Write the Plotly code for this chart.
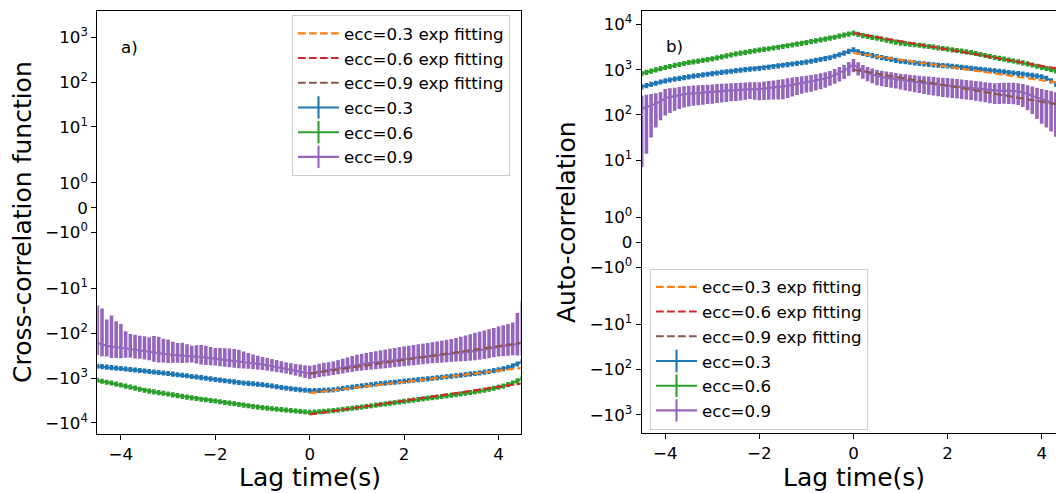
import numpy as np
import plotly.graph_objects as go

W, H = 1056, 493

# ---------------- data ----------------
LAG = np.round(np.arange(-45, 46) * 0.1, 1)          # lag time grid (s)
FIT_LAG = [0.0, 0.5, 1.0, 1.5, 2.0, 2.5, 3.0, 3.5, 4.0, 4.5]

# panel a) cross-correlation
CROSS_03 = [-550,-560,-575,-590,-605,-620,-635,-650,-665,-685,
            -700,-720,-740,-760,-780,-800,-825,-850,-875,-900,
            -930,-960,-990,-1020,-1055,-1090,-1125,-1160,-1195,-1230,
            -1270,-1300,-1330,-1360,-1390,-1420,-1470,-1520,-1580,-1640,
            -1700,-1750,-1800,-1850,-1890,-1920,-1930,-1920,-1900,-1880,
            -1850,-1790,-1730,-1670,-1610,-1560,-1510,-1470,-1420,-1380,
            -1340,-1310,-1280,-1250,-1220,-1190,-1160,-1130,-1100,-1075,
            -1050,-1025,-995,-970,-945,-920,-895,-870,-845,-820,
            -800,-775,-745,-720,-690,-660,-625,-585,-540,-490,
            -430]
CROSS_03_ERR = [72,73,75,77,79,81,83,85,86,89,
                91,94,96,99,101,104,107,111,114,117,
                121,125,129,133,137,142,146,151,155,160,
                165,169,173,177,181,185,191,198,205,213,
                221,228,234,241,246,250,251,250,247,244,
                241,233,225,217,209,203,196,191,185,179,
                174,170,166,163,159,155,151,147,143,140,
                137,133,129,126,123,120,116,113,110,107,
                104,101,97,94,90,86,81,76,70,64,
                56]
CROSS_06 = [-1130,-1190,-1250,-1310,-1380,-1450,-1530,-1610,-1700,-1800,
            -1900,-1980,-2060,-2140,-2220,-2300,-2400,-2500,-2600,-2700,
            -2800,-2900,-3000,-3100,-3200,-3300,-3420,-3550,-3680,-3810,
            -3950,-4080,-4220,-4360,-4500,-4650,-4770,-4890,-5010,-5130,
            -5250,-5380,-5510,-5640,-5770,-5900,-5820,-5720,-5620,-5510,
            -5400,-5240,-5080,-4930,-4790,-4650,-4500,-4360,-4220,-4080,
            -3950,-3830,-3710,-3590,-3470,-3350,-3250,-3150,-3050,-2950,
            -2850,-2770,-2690,-2610,-2530,-2450,-2370,-2290,-2210,-2130,
            -2050,-1970,-1890,-1800,-1710,-1620,-1530,-1420,-1300,-1170,
            -1020]
CROSS_06_ERR = [147,155,163,170,179,189,199,209,221,234,
                247,257,268,278,289,299,312,325,338,351,
                364,377,390,403,416,429,445,462,478,495,
                514,530,549,567,585,605,620,636,651,667,
                683,699,716,733,750,767,757,744,731,716,
                702,681,660,641,623,605,585,567,549,530,
                514,498,482,467,451,436,423,410,397,384,
                371,360,350,339,329,319,308,298,287,277,
                267,256,246,234,222,211,199,185,169,152,
                133]
CROSS_09 = [-164,-178,-190,-198,-205,-212,-220,-228,-236,-243,
            -250,-262,-275,-284,-292,-300,-305,-309,-313,-316,
            -320,-330,-340,-350,-360,-369,-378,-388,-398,-409,
            -420,-434,-449,-465,-482,-500,-520,-543,-567,-593,
            -620,-650,-685,-720,-758,-790,-760,-720,-690,-665,
            -640,-610,-580,-552,-525,-500,-485,-470,-456,-443,
            -430,-418,-405,-393,-381,-370,-360,-350,-340,-330,
            -320,-313,-306,-299,-292,-285,-278,-271,-264,-257,
            -250,-240,-230,-220,-210,-200,-195,-190,-183,-175,
            -164]
CROSS_09_ERR = [140,150,141,158,151,150,130,125,128,130,
                133,140,160,165,160,162,150,145,150,140,
                131,145,158,160,158,157,165,172,178,184,
                188,180,172,168,165,162,165,168,170,172,
                173,185,200,220,240,260,250,240,232,224,
                216,213,210,206,203,200,198,196,194,192,
                190,187,184,180,177,174,171,168,164,160,
                156,155,154,153,152,151,151,152,152,152,
                152,148,144,139,134,130,129,128,126,140,
                145]
CROSS_FIT_03 = [-2170,-1880,-1625,-1405,-1215,-1055,-912,-789,-682,-592]
CROSS_FIT_06 = [-6550,-5480,-4590,-3850,-3220,-2700,-2260,-1890,-1580,-1320]
CROSS_FIT_09 = [-800,-670,-561,-470,-394,-330,-276,-231,-194,-162]

# panel b) auto-correlation
AUTO_03 = [422,450,478,505,540,572,598,622,648,674,
           700,725,750,775,800,828,852,878,905,932,
           960,985,1010,1035,1058,1080,1115,1150,1185,1222,
           1260,1300,1345,1390,1435,1480,1550,1620,1690,1770,
           1850,2000,2150,2330,2550,2760,2500,2300,2180,2060,
           1950,1860,1780,1700,1620,1550,1510,1470,1430,1390,
           1350,1320,1290,1260,1240,1220,1190,1160,1130,1105,
           1080,1055,1030,1000,975,950,925,900,875,852,
           830,805,780,755,728,700,650,570,483,440,
           400]
AUTO_03_ERR = [55,59,62,66,70,74,78,81,84,88,
               91,94,98,101,104,108,111,114,118,121,
               125,128,131,135,138,140,145,150,154,159,
               164,169,175,181,187,192,202,211,220,230,
               241,260,280,303,332,359,325,299,283,268,
               254,242,231,221,211,202,196,191,186,181,
               176,172,168,164,161,159,155,151,147,144,
               140,137,134,130,127,124,120,117,114,111,
               108,105,101,98,95,91,85,74,63,57,
               52]
AUTO_06 = [828,880,935,995,1060,1125,1185,1250,1315,1380,
           1450,1505,1560,1620,1685,1750,1840,1930,2030,2140,
           2250,2340,2430,2520,2620,2720,2820,2920,3030,3150,
           3270,3400,3540,3690,3840,4000,4180,4370,4570,4780,
           5000,5250,5550,5850,6150,6450,6050,5700,5450,5220,
           5000,4760,4530,4310,4100,3900,3790,3680,3580,3480,
           3390,3280,3170,3060,2960,2860,2760,2670,2580,2490,
           2410,2290,2180,2070,1970,1870,1790,1720,1640,1570,
           1500,1420,1350,1280,1200,1125,1070,1010,950,890,
           820]
AUTO_06_ERR = [108,114,122,129,138,146,154,163,171,179,
               189,196,203,211,219,228,239,251,264,278,
               293,304,316,328,341,354,367,380,394,410,
               425,442,460,480,499,520,543,568,594,621,
               650,683,722,761,800,839,787,741,709,679,
               650,619,589,560,533,507,493,478,465,452,
               441,426,412,398,385,372,359,347,335,324,
               313,298,283,269,256,243,233,224,213,204,
               195,185,176,166,156,146,139,131,124,116,
               107]
AUTO_09 = [137,147,161,178,200,236,250,262,275,288,
           295,302,308,314,320,325,332,338,344,350,
           355,362,370,378,372,370,380,390,400,410,
           420,440,462,485,505,525,545,570,600,640,
           690,760,850,950,1100,1300,1100,950,850,780,
           720,690,660,635,612,590,570,552,535,520,
           505,492,480,468,457,447,436,426,416,405,
           395,384,372,360,348,337,340,345,345,342,
           335,315,290,265,240,220,205,190,175,162,
           150]
AUTO_09_ERR = [130,133,129,125,123,139,139,138,140,141,
               142,143,144,145,146,147,148,149,150,150,
               151,152,152,153,155,159,165,172,180,190,
               198,203,206,208,210,211,218,225,232,240,
               248,270,300,330,370,420,360,320,295,280,
               268,258,248,238,230,224,222,220,218,216,
               214,212,210,208,206,205,200,195,190,185,
               180,177,173,170,166,163,165,168,170,170,
               168,165,162,160,158,156,152,147,142,140,
               138]
AUTO_FIT_03 = [2340,1966,1652,1389,1167,981,824,693,582,490]
AUTO_FIT_06 = [6450,5240,4250,3450,2800,2270,1840,1495,1213,985]
AUTO_FIT_09 = [1000,816,666,543,443,362,295,241,197,160]

SERIES_NAMES = ["ecc=0.3", "ecc=0.6", "ecc=0.9"]
FIT_NAMES = ["ecc=0.3 exp fitting", "ecc=0.6 exp fitting", "ecc=0.9 exp fitting"]
X_TICKS = [-4, -2, 0, 2, 4]
X_TICKTEXT = ["\u22124", "\u22122", "0", "2", "4"]
Y_TICKS_A = [1000, 100, 10, 1, 0, -1, -10, -100, -1000, -10000]
Y_TICKS_B = [10000, 1000, 100, 10, 1, 0, -1, -10, -100, -1000]

DATA_COLORS = ["#1f77b4", "#2ca02c", "#9467bd"]
FIT_COLORS = ["#ff7f0e", "#d62728", "#8c564b"]


# ---------------- symlog scale (matplotlib default: linthresh=2, linscale=1) ----------------
LINTHRESH = 2.0
ADJ = 1.0 / (1.0 - 0.1)


def symlog(v):
    v = np.asarray(v, dtype=float)
    a = np.abs(v)
    out = np.sign(v) * LINTHRESH * (ADJ + np.log10(np.maximum(a, 1e-12) / LINTHRESH))
    return np.where(a <= LINTHRESH, v * ADJ, out)


def tick_label(v):
    if v == 0:
        return "0"
    e = int(round(np.log10(abs(v))))
    s = "\u2212" if v < 0 else ""
    return f"{s}10<sup>{e}</sup>"


def px_x(p):
    return p / W


def px_y(p):
    return 1 - p / H


fig = go.Figure()

FONT = "DejaVu Sans"
FS = 16.7
LW = 2.1
DASH = "7.7px,3.3px"

panels = [
    dict(xa="x", ya="y", leg="legend",
         data=[CROSS_03, CROSS_06, CROSS_09],
         err=[CROSS_03_ERR, CROSS_06_ERR, CROSS_09_ERR],
         fits=[CROSS_FIT_03, CROSS_FIT_06, CROSS_FIT_09]),
    dict(xa="x2", ya="y2", leg="legend2",
         data=[AUTO_03, AUTO_06, AUTO_09],
         err=[AUTO_03_ERR, AUTO_06_ERR, AUTO_09_ERR],
         fits=[AUTO_FIT_03, AUTO_FIT_06, AUTO_FIT_09]),
]

for p in panels:
    # data with error bars
    for vals, errs, col in zip(p["data"], p["err"], DATA_COLORS):
        v = np.array(vals, dtype=float)
        e = np.array(errs, dtype=float)
        y = symlog(v)
        up = symlog(v + e) - y
        dn = y - symlog(v - e)
        fig.add_trace(go.Scatter(
            x=LAG, y=y, mode="lines", line=dict(color=col, width=LW),
            error_y=dict(type="data", symmetric=False, array=up, arrayminus=dn,
                         color=col, thickness=3.6, width=0),
            showlegend=False, xaxis=p["xa"], yaxis=p["ya"], hoverinfo="skip"))
    # exponential fits (dashed)
    for k, (vals, col, name) in enumerate(zip(p["fits"], FIT_COLORS, FIT_NAMES)):
        fig.add_trace(go.Scatter(
            x=FIT_LAG, y=symlog(vals), mode="lines",
            line=dict(color=col, width=LW, dash=DASH),
            name=name, legend=p["leg"], legendrank=k + 1,
            xaxis=p["xa"], yaxis=p["ya"]))
    # legend entries for data (errorbar style)
    for k, (col, name) in enumerate(zip(DATA_COLORS, SERIES_NAMES)):
        fig.add_trace(go.Scatter(
            x=[None], y=[None], mode="lines+markers",
            line=dict(color=col, width=LW),
            marker=dict(symbol="line-ns", size=19, color=col, line=dict(color=col, width=LW)),
            name=name, legend=p["leg"], legendrank=k + 4,
            xaxis=p["xa"], yaxis=p["ya"]))

axis_common = dict(showgrid=False, zeroline=False, showline=True, linecolor="black",
                   linewidth=1.1, ticks="outside", ticklen=5, tickwidth=1.1,
                   tickcolor="black", tickfont=dict(family=FONT, size=FS, color="black"))

legend_common = dict(xanchor="left", yanchor="top", bgcolor="white",
                     bordercolor="#cccccc", borderwidth=1,
                     font=dict(family=FONT, size=FS, color="black"),
                     traceorder="normal", itemwidth=41)

fig.update_layout(
    width=W, height=H,
    margin=dict(l=0, r=0, t=0, b=0),
    paper_bgcolor="white", plot_bgcolor="white",
    font=dict(family=FONT, color="black"),
    xaxis=dict(domain=[px_x(97.3), px_x(520.7)], range=[-4.5, 4.47], anchor="y",
               tickvals=X_TICKS, ticktext=X_TICKTEXT, mirror=True, **axis_common),
    yaxis=dict(domain=[px_y(434), px_y(11)], range=[-10.125, 8.80], anchor="x",
               tickvals=list(symlog(Y_TICKS_A)), ticktext=[tick_label(v) for v in Y_TICKS_A],
               mirror=True, **axis_common),
    xaxis2=dict(domain=[px_x(641.7), 1.0], range=[-4.5, 4.304], anchor="y2",
                tickvals=X_TICKS, ticktext=X_TICKTEXT, mirror=True, **axis_common),
    yaxis2=dict(domain=[px_y(433.3), px_y(11)], range=[-8.43, 10.21], anchor="x2",
                tickvals=list(symlog(Y_TICKS_B)), ticktext=[tick_label(v) for v in Y_TICKS_B],
                mirror=False, **axis_common),
    legend=dict(x=px_x(292), y=px_y(15), **legend_common),
    legend2=dict(x=px_x(650), y=px_y(268.5), **legend_common),
    showlegend=True,
)

ann_font = dict(family=FONT, size=25, color="black")
fig.add_annotation(text="a)", x=px_x(119), y=px_y(47), xref="paper", yref="paper",
                   xanchor="left", yanchor="middle", showarrow=False,
                   font=dict(family=FONT, size=FS, color="black"))
fig.add_annotation(text="b)", x=px_x(664), y=px_y(46), xref="paper", yref="paper",
                   xanchor="left", yanchor="middle", showarrow=False,
                   font=dict(family=FONT, size=FS, color="black"))
fig.add_annotation(text="Lag time(s)", x=px_x(309.5), y=px_y(477), xref="paper", yref="paper",
                   xanchor="center", yanchor="middle", showarrow=False, font=ann_font)
fig.add_annotation(text="Lag time(s)", x=px_x(853.5), y=px_y(477), xref="paper", yref="paper",
                   xanchor="center", yanchor="middle", showarrow=False, font=ann_font)
fig.add_annotation(text="Cross-correlation function", x=px_x(22.5), y=px_y(222.5),
                   xref="paper", yref="paper", xanchor="center", yanchor="middle",
                   textangle=-90, showarrow=False, font=ann_font)
fig.add_annotation(text="Auto-correlation", x=px_x(566), y=px_y(222),
                   xref="paper", yref="paper", xanchor="center", yanchor="middle",
                   textangle=-90, showarrow=False, font=ann_font)

fig.write_html("out.html")
